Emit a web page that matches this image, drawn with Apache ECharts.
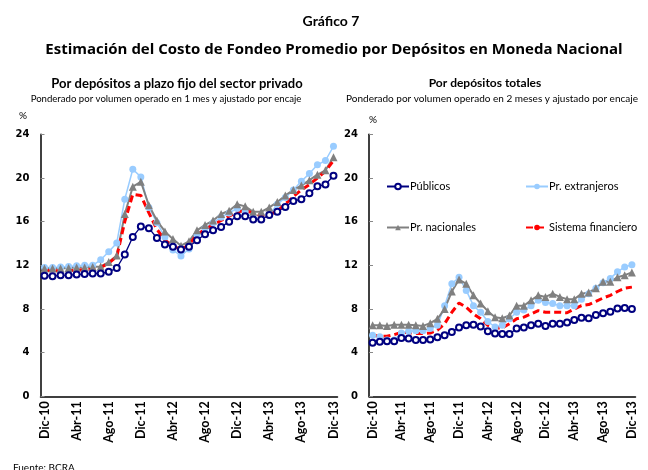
<!DOCTYPE html>
<html>
<head>
<meta charset="utf-8">
<script src="https://cdn.jsdelivr.net/npm/echarts@6/dist/echarts.min.js"></script>
<style>
  html, body { margin: 0; padding: 0; background: #fff; }
  #chart { width: 648px; height: 470px; }
</style>
</head>
<body>
<div id="chart"></div>
<script>
// meses (eje x de ambos paneles)
var meses = ["Dic-10", "Ene-11", "Feb-11", "Mar-11", "Abr-11", "May-11", "Jun-11", "Jul-11", "Ago-11", "Sep-11", "Oct-11", "Nov-11",
    "Dic-11", "Ene-12", "Feb-12", "Mar-12", "Abr-12", "May-12", "Jun-12", "Jul-12", "Ago-12", "Sep-12", "Oct-12", "Nov-12",
    "Dic-12", "Ene-13", "Feb-13", "Mar-13", "Abr-13", "May-13", "Jun-13", "Jul-13", "Ago-13", "Sep-13", "Oct-13", "Nov-13",
    "Dic-13"];
var ticksY = [0, 4, 8, 12, 16, 20, 24];

// panel izquierdo: plazo fijo sector privado
var publicosPF = [11.05, 11.0, 11.08, 11.1, 11.15, 11.2, 11.25, 11.25, 11.4, 11.75, 13.0, 14.6, 15.55, 15.4, 14.5, 13.9, 13.7, 13.45, 13.7, 14.3,
    14.85, 15.2, 15.5, 16.0, 16.5, 16.5, 16.2, 16.2, 16.6, 16.9, 17.35, 17.9, 18.05, 18.6, 19.25, 19.4, 20.2];
var extranjerosPF = [11.8, 11.8, 11.85, 11.9, 11.95, 12.0, 12.0, 12.5, 13.25, 14.05, 18.05, 20.8, 20.1, 17.3, 15.9, 14.6, 13.4, 12.85, 13.5, 14.8,
    15.4, 15.9, 16.4, 16.8, 17.2, 16.9, 16.3, 16.2, 16.6, 17.6, 18.2, 18.9, 19.7, 20.4, 21.2, 21.6, 22.9];
var nacionalesPF = [11.7, 11.7, 11.7, 11.75, 11.8, 11.8, 11.85, 11.9, 12.3, 12.9, 16.7, 19.2, 19.65, 17.5, 16.1, 15.1, 14.4, 13.8, 14.2, 15.2,
    15.7, 16.1, 16.7, 17.0, 17.6, 17.4, 16.9, 16.9, 17.3, 17.8, 18.4, 18.9, 19.3, 19.8, 20.3, 20.7, 21.9];
var sistemaPF = [11.55, 11.5, 11.5, 11.5, 11.55, 11.6, 11.65, 11.8, 12.2, 12.8, 16.0, 18.5, 18.4, 16.8, 15.3, 14.3, 13.8, 13.4, 13.9, 14.8,
    15.3, 15.7, 16.1, 16.5, 16.9, 17.0, 16.8, 16.5, 16.6, 17.0, 17.6, 18.3, 18.9, 19.4, 20.0, 20.6, 21.6];

// panel derecho: depositos totales
var publicosTot = [4.9, 5.0, 5.05, 5.05, 5.35, 5.3, 5.15, 5.15, 5.2, 5.4, 5.6, 5.9, 6.3, 6.5, 6.55, 6.4, 5.95, 5.75, 5.7, 5.7,
    6.2, 6.3, 6.5, 6.65, 6.45, 6.65, 6.65, 6.75, 7.0, 7.2, 7.15, 7.45, 7.6, 7.75, 8.05, 8.1, 8.0];
var extranjerosTot = [5.6, 5.45, 5.15, 5.15, 5.8, 5.95, 6.0, 6.0, 6.2, 6.5, 8.3, 10.3, 10.9, 9.7, 8.3, 7.7, 6.85, 6.35, 6.5, 7.1,
    7.7, 7.9, 8.3, 8.8, 8.6, 8.5, 8.3, 8.3, 8.3, 8.9, 9.4, 9.9, 10.4, 10.8, 11.4, 11.85, 12.05];
var nacionalesTot = [6.5, 6.5, 6.45, 6.55, 6.55, 6.55, 6.5, 6.45, 6.7, 7.1, 8.0, 9.6, 10.7, 10.3, 9.25, 8.5, 7.8, 7.25, 7.15, 7.4,
    8.3, 8.3, 8.8, 9.25, 9.1, 9.4, 9.1, 8.9, 8.9, 9.4, 9.5, 9.9, 10.5, 10.5, 10.9, 11.1, 11.35];
var sistemaTot = [5.6, 5.5, 5.5, 5.65, 5.85, 5.85, 5.75, 5.75, 5.8, 6.05, 6.65, 7.7, 8.55, 8.15, 7.55, 7.1, 6.5, 6.25, 6.25, 6.65,
    7.1, 7.25, 7.55, 7.85, 7.7, 7.7, 7.7, 7.65, 8.0, 8.3, 8.4, 8.7, 9.0, 9.25, 9.6, 9.9, 10.0];

var FONT = "Lato, 'Open Sans', sans-serif";

function xAxisConf(gridIndex) {
    return {
        type: 'category', gridIndex: gridIndex, data: meses, boundaryGap: true,
        axisLine: { lineStyle: { color: '#000', width: 1.5 } },
        axisTick: { inside: true, length: 4, interval: 3, lineStyle: { color: '#888' } },
        axisLabel: { interval: 3, rotate: 90, margin: 5, color: '#000', fontFamily: FONT, fontWeight: 'bold', fontSize: 12.5 }
    };
}

function yAxisConf(gridIndex) {
    return {
        type: 'value', gridIndex: gridIndex, min: ticksY[0], max: ticksY[ticksY.length - 1], interval: 4,
        splitLine: { show: false },
        axisLine: { show: true, lineStyle: { color: '#000', width: 1.5 } },
        axisTick: { show: true, inside: true, length: 4, lineStyle: { color: '#888' } },
        axisLabel: { margin: 11, color: '#000', fontFamily: 'DejaVu Sans', fontWeight: 'bold', fontSize: 10 }
    };
}

function panelSeries(idx, pub, ext, nac, sis) {
    var comun = { type: 'line', xAxisIndex: idx, yAxisIndex: idx, showAllSymbol: true };
    return [Object.assign({}, comun, {
        name: 'Pr. extranjeros', data: ext,
        symbol: 'circle', symbolSize: 7,
        lineStyle: { color: '#99CCFF', width: 1.5 }, itemStyle: { color: '#99CCFF' }
    }), Object.assign({}, comun, {
        name: 'Pr. nacionales', data: nac,
        symbol: 'triangle', symbolSize: 8,
        lineStyle: { color: '#808080', width: 2 }, itemStyle: { color: '#808080' }
    }), Object.assign({}, comun, {
        name: 'Públicos', data: pub,
        symbol: 'emptyCircle', symbolSize: 6,
        lineStyle: { color: '#000080', width: 1.3 }, itemStyle: { color: '#000080', borderWidth: 1.2 }
    }), Object.assign({}, comun, {
        name: 'Sistema financiero', data: sis,
        symbol: 'none',
        lineStyle: { color: '#FF0000', width: 3, type: [7, 4] }, itemStyle: { color: '#FF0000' }
    })];
}

function legendItem(name, left, top) {
    return {
        data: [name], left: left, top: top, itemWidth: 22, itemHeight: 7, itemGap: 0,
        textStyle: { fontFamily: FONT, fontSize: 11, color: '#000', padding: [0, 0, 0, -4] }
    };
}

var myChart = echarts.init(document.getElementById('chart'), null, { renderer: 'canvas' });

var option = {
    animation: false,
    backgroundColor: '#fff',
    title: [
        { text: 'Gráfico 7', left: 326, top: 9, textAlign: 'center', textStyle: { fontFamily: FONT, fontSize: 14, fontWeight: 'bold', color: '#000' } },
        { text: 'Estimación del Costo de Fondeo Promedio por Depósitos en Moneda Nacional', left: 329, top: 37, textAlign: 'center', textStyle: { fontFamily: "'Open Sans', sans-serif", fontSize: 15, fontWeight: 'bold', color: '#000' } },
        { text: 'Por depósitos a plazo fijo del sector privado', left: 172, top: 72, textAlign: 'center', textStyle: { fontFamily: FONT, fontSize: 13, fontWeight: 'bold', color: '#000' } },
        { text: 'Ponderado por volumen operado en 1 mes y ajustado por encaje', left: 161, top: 89, textAlign: 'center', textStyle: { fontFamily: FONT, fontSize: 9.6, fontWeight: 'normal', color: '#000' } },
        { text: 'Por depósitos totales', left: 480, top: 72, textAlign: 'center', textStyle: { fontFamily: FONT, fontSize: 12, fontWeight: 'bold', color: '#000' } },
        { text: 'Ponderado por volumen operado en 2 meses y ajustado por encaje', left: 487, top: 89, textAlign: 'center', textStyle: { fontFamily: FONT, fontSize: 10, fontWeight: 'normal', color: '#000' } },
        { text: 'Fuente: BCRA', left: 8, top: 458, textStyle: { fontFamily: FONT, fontSize: 10, fontWeight: 'normal', color: '#000' } }
    ],
    graphic: [
        { type: 'text', left: 19, top: 111, style: { text: '%', font: "10px " + FONT, fill: '#000' } },
        { type: 'text', left: 369, top: 115, style: { text: '%', font: "10px " + FONT, fill: '#000' } }
    ],
    legend: [
        legendItem('Públicos', 381, 176),
        legendItem('Pr. extranjeros', 520, 176),
        legendItem('Pr. nacionales', 381, 217),
        legendItem('Sistema financiero', 520, 217)
    ],
    grid: [
        { left: 40.5, top: 134.3, width: 297, height: 262 },
        { left: 369, top: 134.3, width: 266.5, height: 262 }
    ],
    xAxis: [xAxisConf(0), xAxisConf(1)],
    yAxis: [yAxisConf(0), yAxisConf(1)],
    series: panelSeries(0, publicosPF, extranjerosPF, nacionalesPF, sistemaPF)
        .concat(panelSeries(1, publicosTot, extranjerosTot, nacionalesTot, sistemaTot))
};

myChart.setOption(option);
</script>
</body>
</html>
